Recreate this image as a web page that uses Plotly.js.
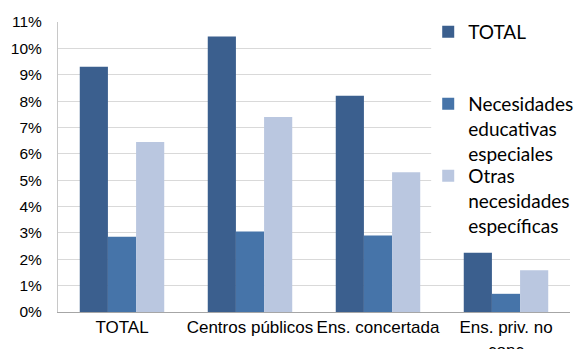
<!DOCTYPE html>
<html><head><meta charset="utf-8">
<script src="https://cdn.plot.ly/plotly-3.0.1.min.js"></script>
<style>html,body{margin:0;padding:0;background:#fff}#chart{width:579px;height:349px}</style>
</head><body><div id="chart"></div>
<script>
const categories = ["TOTAL", "Centros públicos", "Ens. concertada", "Ens. priv. no<br>conc"];
const seriesNames = ["TOTAL", "Necesidades<br>educativas<br>especiales", "Otras<br>necesidades<br>específicas"];
const totalValues = [0.093, 0.1045, 0.082, 0.0225];
const neeValues = [0.0285, 0.0305, 0.029, 0.0069];
const otrasValues = [0.0645, 0.074, 0.053, 0.0158];
const colors = ["#3B5F8E", "#4674A9", "#BAC7E0"];

const values = [totalValues, neeValues, otrasValues];
const legendIds = ["legend", "legend2", "legend3"];
const traces = values.map((v, i) => ({
  type: "bar", x: categories, y: v, name: seriesNames[i],
  marker: {color: colors[i], line: {width: 0}},
  legend: legendIds[i], hoverinfo: "skip"
}));

const legFont = {family: "Lato, 'Open Sans', sans-serif", size: 19, color: "#000"};
const pxX = px => (px - 58) / 520;
const pxY = py => (312 - py) / 290;
function leg(ypx) {
  return {x: pxX(434), y: pxY(ypx), xanchor: "left", yanchor: "top", valign: "top",
    bgcolor: "rgba(0,0,0,0)", font: legFont, itemwidth: 30, tracegroupgap: 0};
}
const layout = {
  width: 579, height: 349,
  margin: {l: 58, r: 1, t: 22, b: 37},
  paper_bgcolor: "#fff", plot_bgcolor: "#fff",
  barmode: "group", bargap: 0.34, bargroupgap: 0,
  showlegend: true,
  legend: leg(13),
  legend2: leg(85),
  legend3: leg(157),
  shapes: [{type: "rect", xref: "paper", yref: "paper", x0: pxX(437), x1: 1, y0: pxY(245), y1: 1.05,
    fillcolor: "#fff", line: {width: 0}, layer: "above"}],
  xaxis: {
    type: "category", showline: true, linecolor: "#A6A6A6", linewidth: 1,
    ticks: "", tickangle: 0, automargin: false,
    tickfont: {family: "'Liberation Sans', Arial, sans-serif", size: 17, color: "#000"},
    fixedrange: true
  },
  yaxis: {
    range: [0, 0.11], dtick: 0.01, tickformat: ".0%",
    showline: true, linecolor: "#C8C8C8", linewidth: 1,
    gridcolor: "#D9D9D9", gridwidth: 1, zeroline: false,
    ticks: "", ticklabelstandoff: 12, automargin: false,
    tickfont: {family: "'Liberation Sans', Arial, sans-serif", size: 15.5, color: "#000"},
    fixedrange: true
  }
};
Plotly.newPlot("chart", traces, layout, {displayModeBar: false, staticPlot: true});
</script></body></html>
